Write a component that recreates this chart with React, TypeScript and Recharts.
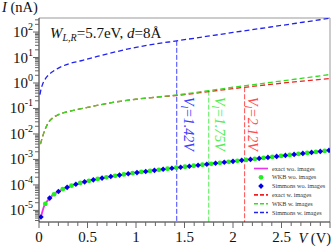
import React from 'react';
import { ComposedChart, Line, Scatter, XAxis, YAxis, ReferenceLine } from 'recharts';

const W = 332;
const H = 247;
const FONT = '"Liberation Serif", "DejaVu Serif", serif';

const yMin = 3.5e-6;
const yMax = 355;
const xMin = 0;
const xMax = 3;

// exact wo. images (magenta line)
const exactWoV = [0.02, 0.05, 0.1, 0.2, 0.3, 0.5, 0.75, 1, 1.25, 1.5, 1.75, 2, 2.25, 2.5, 2.75, 3];
const exactWoI = [5.5e-6, 1.375e-5, 2.75e-5, 5.52e-5, 8.31e-5, 1.404e-4, 2.163e-4, 3.006e-4, 3.976e-4, 5.139e-4, 6.579e-4, 8.404e-4, 1.0755e-3, 1.38e-3, 1.776e-3, 2.288e-3];

// WKB wo. images (green circles)
const wkbWoV = [0.065, 0.155, 0.245, 0.335, 0.425, 0.515, 0.605, 0.695, 0.785, 0.875, 0.965, 1.055, 1.145, 1.235, 1.325, 1.415, 1.505, 1.595, 1.685, 1.775, 1.865, 1.955, 2.045, 2.135, 2.225, 2.315, 2.405, 2.495, 2.585, 2.675, 2.765, 2.855, 2.945];
const wkbWoI = [0.179e-4, 0.427e-4, 0.677e-4, 0.93e-4, 1.186e-4, 1.448e-4, 1.715e-4, 1.991e-4, 2.276e-4, 2.572e-4, 2.881e-4, 3.222e-4, 3.549e-4, 3.913e-4, 4.302e-4, 4.717e-4, 5.165e-4, 5.648e-4, 6.172e-4, 6.742e-4, 7.362e-4, 8.041e-4, 8.784e-4, 9.598e-4, 10.49e-4, 11.47e-4, 12.55e-4, 13.74e-4, 15.04e-4, 16.46e-4, 18.03e-4, 19.75e-4, 21.64e-4];

// Simmons wo. images (blue diamonds)
const simWoV = [0.02, 0.11, 0.2, 0.29, 0.38, 0.47, 0.56, 0.65, 0.74, 0.83, 0.92, 1.01, 1.1, 1.19, 1.28, 1.37, 1.46, 1.55, 1.64, 1.73, 1.82, 1.91, 2.0, 2.09, 2.18, 2.27, 2.36, 2.45, 2.54, 2.63, 2.72, 2.81, 2.9, 2.99];
const simWoI = [0.055e-4, 0.303e-4, 0.552e-4, 0.803e-4, 1.057e-4, 1.316e-4, 1.581e-4, 1.852e-4, 2.132e-4, 2.422e-4, 2.725e-4, 3.042e-4, 3.375e-4, 3.729e-4, 4.104e-4, 4.506e-4, 4.937e-4, 5.401e-4, 5.904e-4, 6.45e-4, 7.045e-4, 7.694e-4, 8.404e-4, 9.181e-4, 10.03e-4, 10.97e-4, 12.0e-4, 13.13e-4, 14.37e-4, 15.73e-4, 17.23e-4, 18.87e-4, 20.67e-4, 22.65e-4];

// with images
const wImgV = [0.015, 0.04, 0.07, 0.1, 0.15, 0.2, 0.3, 0.4, 0.5, 0.75, 1, 1.25, 1.5, 1.75, 2, 2.25, 2.5, 2.75, 3];
const exactWI = [0.004, 0.0085, 0.0175, 0.029, 0.045, 0.057, 0.075, 0.092, 0.11, 0.17, 0.23, 0.285, 0.35, 0.46, 0.6, 0.77, 0.98, 1.22, 1.5];
const wkbWI = [0.004, 0.0085, 0.0175, 0.029, 0.045, 0.057, 0.075, 0.092, 0.11, 0.17, 0.23, 0.29, 0.37, 0.5, 0.68, 0.9, 1.2, 1.6, 2.15];

const simWV = [0.01, 0.02, 0.04, 0.07, 0.1, 0.15, 0.2, 0.3, 0.45, 0.6, 0.8, 1.0, 1.2, 1.42, 1.6, 1.8, 2.0, 2.25, 2.5, 2.75, 3.0];
const simWI = [0.35, 0.55, 0.95, 1.55, 2.1, 2.95, 3.85, 5.55, 7.7, 11, 17, 25, 34, 45, 57, 74, 96, 132, 182, 251, 347];

// threshold voltages V_l
const vlV = [1.42, 1.75, 2.12];
const vlTop = [45, 0.5, 0.68];
const vlText = ['1.42', '1.75', '2.12'];

const legendNames = ['exact wo. images', 'WKB wo. images', 'Simmons wo. images', 'exact w. images', 'WKB w. images', 'Simmons w. images'];

const xTickLabels = ['0', '0.5', '1', '1.5', '2', '2.5'];
const yLabelExps = [-5, -4, -3, -2, -1, 0, 1, 2];

const C_MAG = '#ee33ee';
const C_GREEN_DOT = '#22ee22';
const C_BLUE_DOT = '#0000e6';
const C_RED = '#ee2222';
const C_GREEN = '#33dd22';
const C_BLUE = '#2222ee';
const VL_COLORS = ['#4040ff', '#50ee50', '#ff4c4c'];
const VL_DX = [7, 6, 3];

const pts = (v: number[], i: number[]) => v.map((x, k) => ({ v: x, i: i[k] }));

const exactWoData = pts(exactWoV, exactWoI);
const wkbWoData = pts(wkbWoV, wkbWoI);
const simWoData = pts(simWoV, simWoI);
const exactWData = pts(wImgV, exactWI);
const wkbWData = pts(wImgV, wkbWI);
const simWData = pts(simWV, simWI);

const xTicks = Array.from({ length: 31 }, (_, k) => Math.round(k) / 10);
const yTicks: number[] = [];
for (let e = -6; e <= 2; e++) {
  for (let m = 1; m <= 9; m++) {
    const t = m * Math.pow(10, e);
    if (t >= yMin && t <= yMax) yTicks.push(t);
  }
}

const YTick = (props: any) => {
  const { x, y, payload } = props;
  const val = payload.value as number;
  const exp = Math.round(Math.log10(val));
  const isMajor = Math.abs(val - Math.pow(10, exp)) / val < 1e-6;
  const showLabel = isMajor && yLabelExps.includes(exp);
  return (
    <g>
      <line x1={x - (isMajor ? 6 : 4)} x2={x} y1={y} y2={y} stroke="#666" strokeWidth={1} />
      {showLabel && (
        <text x={x - 6} y={y + 5} textAnchor="end" fontSize={15} fontFamily={FONT} fill="#111">
          10<tspan dy={-7} fontSize={10}>{String(exp)}</tspan>
        </text>
      )}
    </g>
  );
};

const XTick = (props: any) => {
  const { x, y, payload } = props;
  const val = payload.value as number;
  const isMajor = Math.abs(val * 2 - Math.round(val * 2)) < 1e-6;
  const idx = Math.round(val * 2);
  const label = isMajor && idx < xTickLabels.length ? xTickLabels[idx] : null;
  return (
    <g>
      <line x1={x} x2={x} y1={y} y2={y + (isMajor ? 6 : 4)} stroke="#666" strokeWidth={1} />
      {label && (
        <text x={x} y={y + 20} textAnchor="middle" fontSize={15} fontFamily={FONT} fill="#111">
          {label}
        </text>
      )}
    </g>
  );
};

const Circle = (props: any) => <circle cx={props.cx} cy={props.cy} r={2.4} fill={C_GREEN_DOT} />;
const Diamond = (props: any) => {
  const { cx, cy } = props;
  const r = 2.8;
  return <path d={`M${cx},${cy - r}L${cx + r},${cy}L${cx},${cy + r}L${cx - r},${cy}Z`} fill={C_BLUE_DOT} />;
};

const makeVLabel = (k: number) => (props: any) => {
  const vb = props.viewBox || {};
  const x = (vb.x ?? 0) + VL_DX[k];
  const y = 97;
  return (
    <text
      transform={`rotate(90 ${x} ${y})`}
      x={x}
      y={y}
      fill={VL_COLORS[k]}
      fontSize={14}
      fontStyle="italic"
      fontFamily={FONT}
    >
      V<tspan fontSize={10} dy={3}>l</tspan>
      <tspan dy={-3}>{`=${vlText[k]}V`}</tspan>
    </text>
  );
};

const legendStyles = [
  { kind: 'line', color: C_MAG, dash: undefined as string | undefined },
  { kind: 'circle', color: C_GREEN_DOT, dash: undefined },
  { kind: 'diamond', color: C_BLUE_DOT, dash: undefined },
  { kind: 'line', color: C_RED, dash: '4 2' },
  { kind: 'line', color: C_GREEN, dash: '4 2' },
  { kind: 'line', color: C_BLUE, dash: '4 2' },
];

export default function App() {
  return (
    <div style={{ position: 'absolute', left: 0, top: 0, width: W, height: H, background: '#fff' }}>
      <ComposedChart width={W} height={H} margin={{ top: 18, right: 2, bottom: 0, left: 0 }}>
        <XAxis
          type="number"
          dataKey="v"
          domain={[xMin, xMax]}
          allowDataOverflow
          ticks={xTicks}
          interval={0}
          tick={<XTick />}
          tickLine={false}
          tickSize={0}
          tickMargin={0}
          height={25}
          axisLine={{ stroke: '#222' }}
        />
        <YAxis
          type="number"
          dataKey="i"
          scale="log"
          domain={[yMin, yMax]}
          allowDataOverflow
          ticks={yTicks}
          interval={0}
          tick={<YTick />}
          tickLine={false}
          tickSize={0}
          tickMargin={0}
          width={39}
          axisLine={{ stroke: '#222' }}
        />
        <ReferenceLine y={yMax} stroke="#999" ifOverflow="visible" />
        <ReferenceLine x={xMax} stroke="#999" ifOverflow="visible" />

        {vlV.map((v, k) => (
          <ReferenceLine
            key={k}
            segment={[{ x: v, y: vlTop[k] }, { x: v, y: yMin }]}
            stroke={VL_COLORS[k]}
            strokeWidth={1}
            strokeDasharray="5 2"
            ifOverflow="visible"
            label={makeVLabel(k)}
          />
        ))}

        <Line data={exactWoData} dataKey="i" type="monotone" stroke={C_MAG} strokeWidth={1.8} dot={false} isAnimationActive={false} />
        <Scatter data={wkbWoData} dataKey="i" shape={<Circle />} isAnimationActive={false} />
        <Scatter data={simWoData} dataKey="i" shape={<Diamond />} isAnimationActive={false} />
        <Line data={exactWData} dataKey="i" type="monotone" stroke={C_RED} strokeWidth={1.3} strokeDasharray="5 3" dot={false} isAnimationActive={false} />
        <Line data={wkbWData} dataKey="i" type="monotone" stroke={C_GREEN} strokeWidth={1.3} strokeDasharray="5 3" dot={false} isAnimationActive={false} />
        <Line data={simWData} dataKey="i" type="monotone" stroke={C_BLUE} strokeWidth={1.3} strokeDasharray="5 3" dot={false} isAnimationActive={false} />
      </ComposedChart>

      <svg
        width={W}
        height={H}
        style={{ position: 'absolute', left: 0, top: 0, pointerEvents: 'none' }}
        fontFamily={FONT}
      >
        <text x={2} y={12} fontSize={14.5} fill="#111">
          <tspan fontStyle="italic">I</tspan> (nA)
        </text>
        <text x={50} y={38} fontSize={15} fill="#111">
          <tspan fontStyle="italic">W</tspan>
          <tspan fontStyle="italic" fontSize={10} dy={3}>L,R</tspan>
          <tspan dy={-3}>=5.7eV, </tspan>
          <tspan fontStyle="italic">d</tspan>
          <tspan>=8Å</tspan>
        </text>
        <text x={331} y={243} textAnchor="end" fontSize={14.5} fill="#111">
          <tspan fontStyle="italic">V</tspan> (V)
        </text>
        {legendNames.map((name, k) => {
          const y = 168.5 + k * 8.8;
          const s = legendStyles[k];
          return (
            <g key={name}>
              {s.kind === 'line' && (
                <line x1={254} x2={268} y1={y} y2={y} stroke={s.color} strokeWidth={1.6} strokeDasharray={s.dash} />
              )}
              {s.kind === 'circle' && <circle cx={261} cy={y} r={2.4} fill={s.color} />}
              {s.kind === 'diamond' && (
                <path d={`M261,${y - 2.8}L263.8,${y}L261,${y + 2.8}L258.2,${y}Z`} fill={s.color} />
              )}
              <text x={272} y={y + 2} fontSize={6.2} fill="#333">
                {name}
              </text>
            </g>
          );
        })}
      </svg>
    </div>
  );
}
